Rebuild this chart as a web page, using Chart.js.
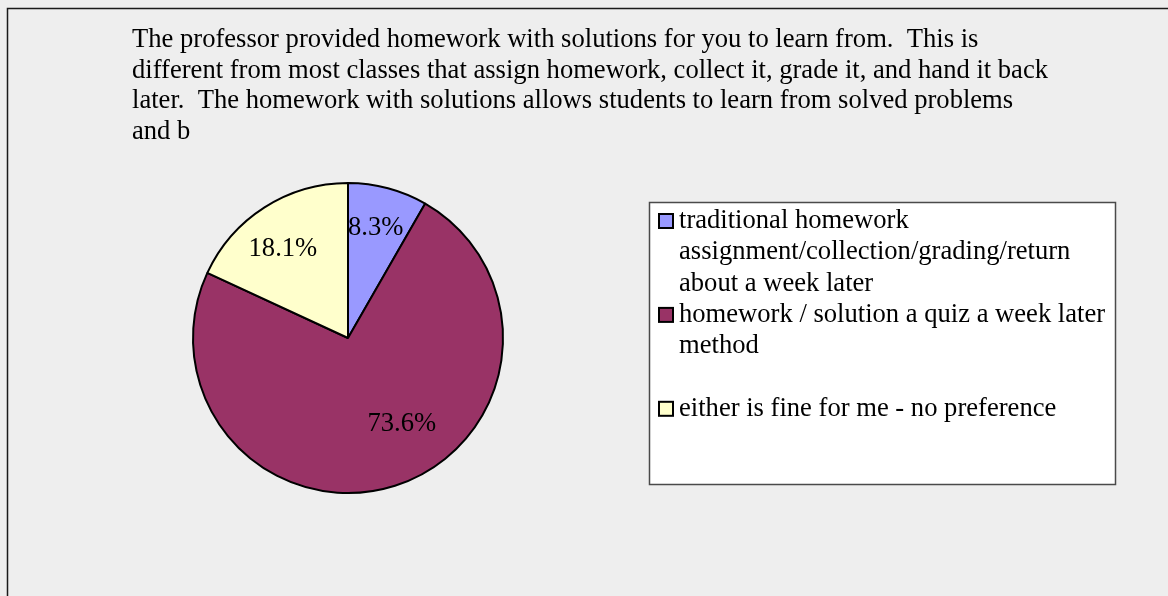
<!DOCTYPE html>
<html>
<head>
<meta charset="utf-8">
<script src="https://cdn.jsdelivr.net/npm/chart.js@4.4.1/dist/chart.umd.min.js"></script>
<style>
  html, body { margin: 0; padding: 0; background: #eeeeee; }
  #wrap { position: relative; width: 1168px; height: 596px; }
  canvas { display: block; }
</style>
</head>
<body>
<div id="wrap"><canvas id="c" width="1168" height="596"></canvas></div>
<script>
// Survey question shown above the pie
const TITLE_LINES = [
  'The professor provided homework with solutions for you to learn from.  This is',
  'different from most classes that assign homework, collect it, grade it, and hand it back',
  'later.  The homework with solutions allows students to learn from solved problems',
  'and b'
];

// Answer options (legend entries)
const CATEGORIES = [
  'traditional homework assignment/collection/grading/return about a week later',
  'homework / solution a quiz a week later method',
  'either is fine for me - no preference'
];

// Share of responses, percent
const PERCENTS = [8.3, 73.6, 18.1];

const COLORS = ['#9999FF', '#993366', '#FFFFCC'];

const FONT = '"Liberation Serif", "Times New Roman", serif';
const FONT_SIZE = 26.6;

// Label placement: fraction of radius along slice mid-angle plus a small nudge (px),
// in the same order as the data
const LABEL_RADIUS = 0.72;
const LABEL_NUDGE = [[-1, -4], [20, -22], [-5, 3]];

// Frame: only the top and left edges of the outer border fall inside the view
const framePlugin = {
  id: 'frame',
  beforeDraw(chart) {
    const ctx = chart.ctx;
    ctx.save();
    ctx.fillStyle = '#eeeeee';
    ctx.fillRect(0, 0, chart.width, chart.height);
    ctx.strokeStyle = '#1a1a1a';
    ctx.lineWidth = 1.5;
    ctx.beginPath();
    ctx.moveTo(7.5, chart.height + 5);
    ctx.lineTo(7.5, 8.5);
    ctx.lineTo(chart.width + 5, 8.5);
    ctx.stroke();
    ctx.restore();
  }
};

const titlePlugin = {
  id: 'questionTitle',
  afterDraw(chart) {
    const ctx = chart.ctx;
    ctx.save();
    ctx.font = FONT_SIZE + 'px ' + FONT;
    ctx.fillStyle = '#000';
    ctx.textAlign = 'left';
    ctx.textBaseline = 'alphabetic';
    TITLE_LINES.forEach((line, i) => ctx.fillText(line, 132, 47 + i * 30.5));
    ctx.restore();
  }
};

const sliceLabelPlugin = {
  id: 'sliceLabels',
  afterDatasetsDraw(chart) {
    const ctx = chart.ctx;
    const meta = chart.getDatasetMeta(0);
    ctx.save();
    ctx.font = FONT_SIZE + 'px ' + FONT;
    ctx.fillStyle = '#000';
    ctx.textAlign = 'center';
    ctx.textBaseline = 'alphabetic';
    meta.data.forEach((arc, i) => {
      const p = arc.getProps(['x', 'y', 'startAngle', 'endAngle', 'outerRadius'], true);
      const mid = (p.startAngle + p.endAngle) / 2;
      const r = p.outerRadius * LABEL_RADIUS;
      const x = p.x + Math.cos(mid) * r + LABEL_NUDGE[i][0];
      const y = p.y + Math.sin(mid) * r + LABEL_NUDGE[i][1];
      const v = chart.data.datasets[0].data[i];
      ctx.fillText(v.toFixed(1) + '%', x, y + FONT_SIZE * 0.33);
    });
    ctx.restore();
  }
};

function wrapText(ctx, text, maxW) {
  const words = text.split(' ');
  const lines = [];
  let cur = '';
  words.forEach(w => {
    const test = cur ? cur + ' ' + w : w;
    if (ctx.measureText(test).width > maxW && cur) {
      lines.push(cur);
      cur = w;
    } else {
      cur = test;
    }
  });
  if (cur) lines.push(cur);
  return lines;
}

const boxLegendPlugin = {
  id: 'boxLegend',
  afterDraw(chart) {
    const ctx = chart.ctx;
    const box = { left: 649.5, top: 202.5, right: 1115.5, bottom: 484.5 };
    ctx.save();
    ctx.fillStyle = '#ffffff';
    ctx.fillRect(box.left, box.top, box.right - box.left, box.bottom - box.top);
    ctx.strokeStyle = '#4a4a4a';
    ctx.lineWidth = 1.5;
    ctx.strokeRect(box.left, box.top, box.right - box.left, box.bottom - box.top);

    ctx.font = FONT_SIZE + 'px ' + FONT;
    ctx.textAlign = 'left';
    ctx.textBaseline = 'alphabetic';
    const lineH = 31.3;
    const firstBase = 228;
    const textX = 679;
    const colors = chart.data.datasets[0].backgroundColor;
    chart.data.labels.forEach((label, i) => {
      const base = firstBase + i * 3 * lineH;
      // swatch
      ctx.fillStyle = colors[i];
      ctx.fillRect(659, base - 14, 14, 14);
      ctx.strokeStyle = '#000';
      ctx.lineWidth = 2;
      ctx.strokeRect(659, base - 14, 14, 14);
      // text
      ctx.fillStyle = '#000';
      wrapText(ctx, label, 434).forEach((ln, j) => ctx.fillText(ln, textX, base + j * lineH));
    });
    ctx.restore();
  }
};

new Chart(document.getElementById('c'), {
  type: 'pie',
  data: {
    labels: CATEGORIES,
    datasets: [{
      data: PERCENTS,
      backgroundColor: COLORS,
      borderColor: '#000000',
      borderWidth: 2,
      borderAlign: 'center'
    }]
  },
  options: {
    responsive: false,
    animation: false,
    events: [],
    layout: { padding: { left: 192, top: 182, right: 664, bottom: 102 } },
    plugins: {
      legend: { display: false },
      title: { display: false },
      tooltip: { enabled: false }
    }
  },
  plugins: [framePlugin, sliceLabelPlugin, titlePlugin, boxLegendPlugin]
});
</script>
</body>
</html>
